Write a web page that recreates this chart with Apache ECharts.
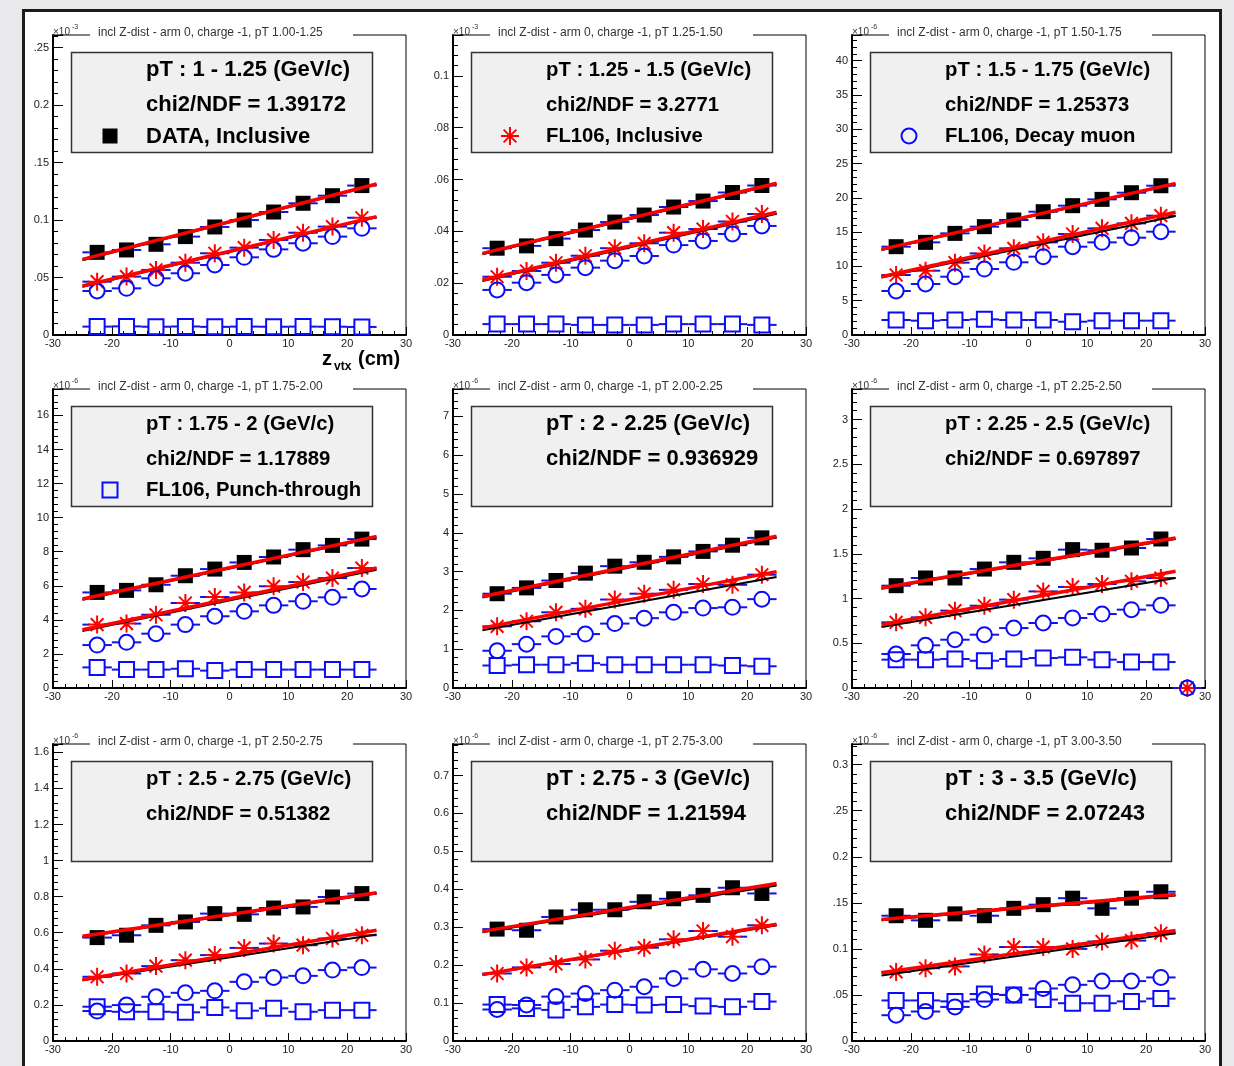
<!DOCTYPE html>
<html>
<head>
<meta charset="utf-8">
<script src="https://cdn.jsdelivr.net/npm/echarts@6/dist/echarts.min.js"></script>
<style>
  html, body { margin: 0; padding: 0; background: #e9e9eb; }
  #canvas-frame { position: absolute; left: 22px; top: 9px; width: 1194px; height: 1070px; background: #fff; border: 3px solid #1c1c1c; }
  #chart { position: absolute; left: 0; top: 0; width: 1234px; height: 1066px; }
</style>
</head>
<body>
<div id="canvas-frame"></div>
<div id="chart"></div>
<script>
// z-vertex bin centres (cm) and half bin width
const zCenters = [-22.5, -17.5, -12.5, -7.5, -2.5, 2.5, 7.5, 12.5, 17.5, 22.5];
const binHalfWidth = 2.5;
const fitRange = [-25, 25];

// Pad titles and annotation text
const padTitles = [
  'incl Z-dist - arm 0, charge -1, pT 1.00-1.25',
  'incl Z-dist - arm 0, charge -1, pT 1.25-1.50',
  'incl Z-dist - arm 0, charge -1, pT 1.50-1.75',
  'incl Z-dist - arm 0, charge -1, pT 1.75-2.00',
  'incl Z-dist - arm 0, charge -1, pT 2.00-2.25',
  'incl Z-dist - arm 0, charge -1, pT 2.25-2.50',
  'incl Z-dist - arm 0, charge -1, pT 2.50-2.75',
  'incl Z-dist - arm 0, charge -1, pT 2.75-3.00',
  'incl Z-dist - arm 0, charge -1, pT 3.00-3.50'
];
const ptLabels = [
  'pT : 1 - 1.25 (GeV/c)', 'pT : 1.25 - 1.5 (GeV/c)', 'pT : 1.5 - 1.75 (GeV/c)',
  'pT : 1.75 - 2 (GeV/c)', 'pT : 2 - 2.25 (GeV/c)', 'pT : 2.25 - 2.5 (GeV/c)',
  'pT : 2.5 - 2.75 (GeV/c)', 'pT : 2.75 - 3 (GeV/c)', 'pT : 3 - 3.5 (GeV/c)'
];
const chi2Values = ['1.39172', '3.2771', '1.25373', '1.17889', '0.936929', '0.697897', '0.51382', '1.21594', '2.07243'];
const legendEntries = ['DATA, Inclusive', 'FL106, Inclusive', 'FL106, Decay muon', 'FL106, Punch-through'];
const yExponents = ['-3', '-3', '-6', '-6', '-6', '-6', '-6', '-6', '-6'];

// Axis ranges and tick labels
const yMax = [0.261, 0.1158, 43.75, 17.55, 7.706, 3.343, 1.646, 0.783, 0.3224];
const yMajorStep = [0.05, 0.02, 5, 2, 1, 0.5, 0.2, 0.1, 0.05];
const yMinorStep = [0.01, 0.004, 1, 0.4, 0.2, 0.1, 0.04, 0.02, 0.01];
const yTickLabels = [
  ['0', '.05', '0.1', '.15', '0.2', '.25'],
  ['0', '.02', '.04', '.06', '.08', '0.1'],
  ['0', '5', '10', '15', '20', '25', '30', '35', '40'],
  ['0', '2', '4', '6', '8', '10', '12', '14', '16'],
  ['0', '1', '2', '3', '4', '5', '6', '7'],
  ['0', '0.5', '1', '1.5', '2', '2.5', '3'],
  ['0', '0.2', '0.4', '0.6', '0.8', '1', '1.2', '1.4', '1.6'],
  ['0', '0.1', '0.2', '0.3', '0.4', '0.5', '0.6', '0.7'],
  ['0', '.05', '0.1', '.15', '0.2', '.25', '0.3']
];
const xTickLabels = ['-30', '-20', '-10', '0', '10', '20', '30'];

// Measured distributions (per pad, in units of the pad's y axis)
const dataInclusive = [
  [0.0719, 0.0740, 0.0789, 0.0856, 0.0940, 0.1000, 0.1070, 0.1146, 0.1212, 0.1300],
  [0.0335, 0.0344, 0.0372, 0.0405, 0.0436, 0.0463, 0.0494, 0.0517, 0.0550, 0.0577],
  [12.88, 13.51, 14.82, 15.80, 16.77, 17.98, 18.86, 19.78, 20.75, 21.77],
  [5.61, 5.73, 6.06, 6.59, 6.98, 7.37, 7.69, 8.12, 8.37, 8.74],
  [2.43, 2.58, 2.77, 2.96, 3.14, 3.24, 3.38, 3.52, 3.68, 3.87],
  [1.144, 1.23, 1.23, 1.33, 1.405, 1.45, 1.547, 1.54, 1.565, 1.666],
  [0.573, 0.586, 0.641, 0.660, 0.706, 0.702, 0.737, 0.743, 0.798, 0.817],
  [0.295, 0.292, 0.327, 0.346, 0.346, 0.367, 0.375, 0.384, 0.404, 0.389],
  [0.136, 0.131, 0.138, 0.136, 0.144, 0.148, 0.155, 0.144, 0.155, 0.162]
];
const fl106Inclusive = [
  [0.0464, 0.0508, 0.0566, 0.0629, 0.0711, 0.0760, 0.0827, 0.0890, 0.0943, 0.1020],
  [0.0225, 0.0247, 0.0279, 0.0306, 0.0335, 0.0354, 0.0395, 0.0409, 0.0438, 0.0467],
  [8.75, 9.38, 10.55, 11.90, 12.64, 13.51, 14.73, 15.55, 16.28, 17.40],
  [3.72, 3.78, 4.30, 4.99, 5.34, 5.61, 5.97, 6.22, 6.45, 7.04],
  [1.59, 1.72, 1.95, 2.04, 2.28, 2.43, 2.53, 2.68, 2.66, 2.92],
  [0.734, 0.79, 0.865, 0.92, 0.988, 1.08, 1.13, 1.163, 1.193, 1.23],
  [0.356, 0.374, 0.415, 0.448, 0.476, 0.516, 0.540, 0.531, 0.568, 0.586],
  [0.178, 0.194, 0.203, 0.215, 0.238, 0.246, 0.268, 0.290, 0.275, 0.305],
  [0.075, 0.079, 0.081, 0.094, 0.102, 0.102, 0.100, 0.108, 0.109, 0.117]
];
const fl106Decay = [
  [0.0383, 0.0406, 0.0493, 0.0537, 0.0609, 0.0676, 0.0745, 0.0798, 0.0856, 0.0928],
  [0.0174, 0.0202, 0.0232, 0.0260, 0.0287, 0.0305, 0.0347, 0.0363, 0.0390, 0.0421],
  [6.42, 7.44, 8.50, 9.62, 10.60, 11.42, 12.88, 13.51, 14.19, 15.07],
  [2.52, 2.68, 3.19, 3.72, 4.21, 4.50, 4.85, 5.09, 5.32, 5.81],
  [0.96, 1.13, 1.33, 1.39, 1.66, 1.80, 1.95, 2.06, 2.08, 2.29],
  [0.38, 0.477, 0.54, 0.596, 0.67, 0.727, 0.783, 0.827, 0.876, 0.924],
  [0.166, 0.199, 0.245, 0.267, 0.278, 0.328, 0.352, 0.361, 0.393, 0.407],
  [0.083, 0.095, 0.117, 0.125, 0.134, 0.143, 0.165, 0.189, 0.178, 0.196],
  [0.028, 0.032, 0.037, 0.045, 0.050, 0.057, 0.061, 0.065, 0.065, 0.069]
];
const fl106Punch = [
  [0.0073, 0.0075, 0.0072, 0.0074, 0.0071, 0.0073, 0.0072, 0.0073, 0.0072, 0.0070],
  [0.0042, 0.0042, 0.0042, 0.0039, 0.0039, 0.0039, 0.0042, 0.0042, 0.0042, 0.0039],
  [2.19, 2.09, 2.19, 2.28, 2.19, 2.19, 1.94, 2.09, 2.09, 2.09],
  [1.21, 1.08, 1.08, 1.13, 1.02, 1.08, 1.08, 1.08, 1.08, 1.08],
  [0.58, 0.60, 0.60, 0.64, 0.60, 0.60, 0.60, 0.60, 0.58, 0.56],
  [0.317, 0.317, 0.324, 0.305, 0.324, 0.335, 0.343, 0.317, 0.29, 0.29],
  [0.19, 0.162, 0.162, 0.159, 0.186, 0.168, 0.181, 0.162, 0.171, 0.171],
  [0.096, 0.086, 0.082, 0.09, 0.096, 0.095, 0.096, 0.092, 0.09, 0.104],
  [0.044, 0.044, 0.043, 0.051, 0.05, 0.045, 0.041, 0.041, 0.043, 0.046]
];
// Overflow entry (pad index 5 only): z position and content of the simulated histograms
const overflowZ = [null, null, null, null, null, 27, null, null, null];
const overflowValue = 0;

// Linear fit end points at z = -25 and z = +25
const dataFitBlack = [[0.0650, 0.1310], [0.0312, 0.0583], [12.40, 22.00], [5.18, 8.85], [2.33, 3.88], [1.110, 1.665], [0.577, 0.818], [0.287, 0.410], [0.131, 0.158]];
const dataFitRed   = [[0.0658, 0.1314], [0.0315, 0.0586], [12.49, 22.11], [5.22, 8.90], [2.36, 3.91], [1.118, 1.677], [0.581, 0.822], [0.289, 0.415], [0.132, 0.159]];
const fl106FitBlack = [[0.0420, 0.1025], [0.0208, 0.0468], [8.40, 17.35], [3.35, 6.94], [1.49, 2.86], [0.682, 1.230], [0.337, 0.590], [0.174, 0.305], [0.071, 0.117]];
const fl106FitRed   = [[0.0426, 0.1030], [0.0212, 0.0474], [8.50, 17.90], [3.42, 7.04], [1.55, 3.00], [0.708, 1.305], [0.340, 0.614], [0.175, 0.308], [0.074, 0.120]];

// ---------------------------------------------------------------------------
const FONT = '"Liberation Sans", Arial, Helvetica, sans-serif';
const BLUE = '#0a0aff';
const RED = '#ff0000';
const ERR_BLUE = '#1414e0';
const STAR_PATH = 'path://M10,0L10,20M0,10L20,10M2.93,2.93L17.07,17.07M2.93,17.07L17.07,2.93';

const colLeft = [53, 453, 852];
const rowTop = [35, 389, 744];
const rowHeight = [300, 299, 297];
const plotWidth = 353;
// annotation text is shrunk where the longest line would overflow the box
const annotationFontPx = [22, 20.3, 20.3, 20.3, 22, 20.3, 20.3, 22, 22];

function pairs(values) {
  return zCenters.map((z, i) => [z, values[i]]);
}

function yFormatter(p) {
  return function (v) {
    const step = yMajorStep[p];
    const k = Math.round(v / step);
    if (Math.abs(v - k * step) > step * 1e-6) return '';
    return yTickLabels[p][k] !== undefined ? yTickLabels[p][k] : '';
  };
}

function xFormatter(v) {
  const k = Math.round((v + 30) / 10);
  return xTickLabels[k] !== undefined ? xTickLabels[k] : '';
}

// Horizontal error bars spanning the bin, interrupted around the marker
function errorBarItem(params, api) {
  const z = api.value(0), y = api.value(1);
  const c = api.coord([z, y]);
  const a = api.coord([z - binHalfWidth, y]);
  const b = api.coord([z + binHalfWidth, y]);
  const gap = 7.5;
  const st = { stroke: ERR_BLUE, lineWidth: 2 };
  return {
    type: 'group',
    children: [
      { type: 'line', shape: { x1: a[0], y1: c[1], x2: c[0] - gap, y2: c[1] }, style: st },
      { type: 'line', shape: { x1: c[0] + gap, y1: c[1], x2: b[0], y2: c[1] }, style: st }
    ]
  };
}

const grids = [], xAxes = [], yAxes = [], series = [], graphics = [];

const markerDefs = [
  { values: dataInclusive, symbol: 'rect', size: 15, itemStyle: { color: '#000', opacity: 1 } },
  { values: fl106Inclusive, symbol: STAR_PATH, size: 18, itemStyle: { color: 'rgba(0,0,0,0)', borderColor: RED, borderWidth: 2, opacity: 1 }, overflow: true },
  { values: fl106Decay, symbol: 'circle', size: 15, itemStyle: { color: 'rgba(0,0,0,0)', borderColor: BLUE, borderWidth: 2, opacity: 1 }, overflow: true },
  { values: fl106Punch, symbol: 'rect', size: 15, itemStyle: { color: 'rgba(0,0,0,0)', borderColor: BLUE, borderWidth: 2, opacity: 1 } }
];

for (let p = 0; p < 9; p++) {
  const L = colLeft[p % 3];
  const T = rowTop[Math.floor(p / 3)];
  const H = rowHeight[Math.floor(p / 3)];

  grids.push({
    left: L, top: T, width: plotWidth, height: H,
    show: true, borderColor: '#000', borderWidth: 1, backgroundColor: 'rgba(0,0,0,0)',
    containLabel: false, outerBoundsMode: 'none'
  });

  xAxes.push({
    gridIndex: p, type: 'value', min: -30, max: 30, interval: 10,
    axisLine: { show: true, onZero: false, lineStyle: { color: '#000', width: 2 } },
    axisTick: { show: true, inside: true, length: 8, lineStyle: { color: '#000', width: 1 } },
    minorTick: { show: true, splitNumber: 5, length: 4, lineStyle: { color: '#000', width: 1 } },
    splitLine: { show: false }, minorSplitLine: { show: false },
    axisLabel: { fontFamily: FONT, fontSize: 11, color: '#222', margin: 3, formatter: xFormatter, hideOverlap: false }
  });

  // main y axis: long ticks and labels
  yAxes.push({
    gridIndex: p, type: 'value', min: 0, max: yMax[p], interval: yMajorStep[p], position: 'left', offset: 0,
    axisLine: { show: true, onZero: false, lineStyle: { color: '#000', width: 2 } },
    axisTick: { show: true, inside: true, length: 10, lineStyle: { color: '#000', width: 1 } },
    splitLine: { show: false },
    axisLabel: { fontFamily: FONT, fontSize: 11, color: '#222', margin: 4, formatter: yFormatter(p), hideOverlap: false }
  });
  // secondary y axis: short subdivision ticks
  yAxes.push({
    gridIndex: p, type: 'value', min: 0, max: yMax[p], interval: yMinorStep[p], position: 'left', offset: 0,
    axisLine: { show: false, onZero: false },
    axisTick: { show: true, inside: true, length: 5, lineStyle: { color: '#000', width: 1 } },
    splitLine: { show: false },
    axisLabel: { show: false }
  });

  const yIdx = 2 * p;

  markerDefs.forEach((m) => {
    const pts = pairs(m.values[p]);
    if (m.overflow && overflowZ[p] !== null) pts.push([overflowZ[p], overflowValue]);
    series.push({
      type: 'custom', xAxisIndex: p, yAxisIndex: yIdx, z: 2, silent: true,
      renderItem: errorBarItem, encode: { x: 0, y: 1 }, data: pts, clip: false
    });
    series.push({
      type: 'scatter', xAxisIndex: p, yAxisIndex: yIdx, z: 3, silent: true, clip: false,
      symbol: m.symbol, symbolSize: m.size, itemStyle: m.itemStyle,
      emphasis: { disabled: true }, data: pts
    });
  });

  const fitLines = [
    { v: dataFitBlack[p], color: '#000', width: 2, z: 4 },
    { v: dataFitRed[p], color: RED, width: 3.5, z: 5 },
    { v: fl106FitBlack[p], color: '#000', width: 2, z: 4 },
    { v: fl106FitRed[p], color: RED, width: 3.5, z: 5 }
  ];
  fitLines.forEach(f => {
    series.push({
      type: 'line', xAxisIndex: p, yAxisIndex: yIdx, z: f.z, silent: true,
      symbol: 'none', showSymbol: false,
      lineStyle: { color: f.color, width: f.width },
      emphasis: { disabled: true },
      data: [[fitRange[0], f.v[0]], [fitRange[1], f.v[1]]]
    });
  });

  // pad title (blanks the frame line behind it)
  graphics.push({ type: 'rect', z: 50, shape: { x: L + 37, y: T - 10, width: 263, height: 14 }, style: { fill: '#fff' } });
  graphics.push({ type: 'text', z: 51, x: L + 45, y: T - 2,
    style: { text: padTitles[p], font: '12px ' + FONT, fill: '#333', verticalAlign: 'middle', align: 'left' } });

  // axis multiplier
  graphics.push({ type: 'text', z: 51, x: L, y: T - 3,
    style: { text: '\u00d710', font: '10px ' + FONT, fill: '#333', verticalAlign: 'middle', align: 'left' } });
  graphics.push({ type: 'text', z: 51, x: L + 19, y: T - 8,
    style: { text: yExponents[p], font: '7px ' + FONT, fill: '#333', verticalAlign: 'middle', align: 'left' } });

  // annotation box
  graphics.push({ type: 'rect', z: 50, shape: { x: L + 18.5, y: T + 17.5, width: 301, height: 100 },
    style: { fill: '#f0f0f0', stroke: '#333', lineWidth: 1.5 } });
  const boldFont = 'bold ' + annotationFontPx[p] + 'px ' + FONT;
  graphics.push({ type: 'text', z: 51, x: L + 93, y: T + 35,
    style: { text: ptLabels[p], font: boldFont, fill: '#000', verticalAlign: 'middle', align: 'left' } });
  graphics.push({ type: 'text', z: 51, x: L + 93, y: T + 70,
    style: { text: 'chi2/NDF = ' + chi2Values[p], font: boldFont, fill: '#000', verticalAlign: 'middle', align: 'left' } });

  if (p < legendEntries.length) {
    graphics.push({ type: 'text', z: 51, x: L + 93, y: T + 101.5,
      style: { text: legendEntries[p], font: boldFont, fill: '#000', verticalAlign: 'middle', align: 'left' } });
    const mx = L + 57, my = T + 101;
    if (p === 0) {
      graphics.push({ type: 'rect', z: 51, shape: { x: mx - 7.5, y: my - 7.5, width: 15, height: 15 }, style: { fill: '#000' } });
    } else if (p === 1) {
      const r = 9, d = r * 0.7071;
      const segs = [[0, -r, 0, r], [-r, 0, r, 0], [-d, -d, d, d], [-d, d, d, -d]];
      segs.forEach(s => graphics.push({ type: 'line', z: 51,
        shape: { x1: mx + s[0], y1: my + s[1], x2: mx + s[2], y2: my + s[3] }, style: { stroke: RED, lineWidth: 2 } }));
    } else if (p === 2) {
      graphics.push({ type: 'circle', z: 51, shape: { cx: mx, cy: my, r: 7.5 }, style: { fill: 'none', stroke: BLUE, lineWidth: 2 } });
    } else {
      graphics.push({ type: 'rect', z: 51, shape: { x: mx - 7.5, y: my - 7.5, width: 15, height: 15 }, style: { fill: 'none', stroke: BLUE, lineWidth: 2 } });
    }
  }
}

// x-axis title of the first pad
graphics.push({ type: 'text', z: 51, x: 322, y: 359, style: { text: 'z', font: 'bold 20px ' + FONT, fill: '#000', verticalAlign: 'middle' } });
graphics.push({ type: 'text', z: 51, x: 334, y: 367, style: { text: 'vtx', font: 'bold 12px ' + FONT, fill: '#000', verticalAlign: 'middle' } });
graphics.push({ type: 'text', z: 51, x: 358, y: 359, style: { text: '(cm)', font: 'bold 20px ' + FONT, fill: '#000', verticalAlign: 'middle' } });

const chart = echarts.init(document.getElementById('chart'), null, { renderer: 'canvas' });
chart.setOption({
  animation: false,
  backgroundColor: 'rgba(0,0,0,0)',
  grid: grids,
  xAxis: xAxes,
  yAxis: yAxes,
  series: series,
  graphic: { elements: graphics }
});
</script>
</body>
</html>
